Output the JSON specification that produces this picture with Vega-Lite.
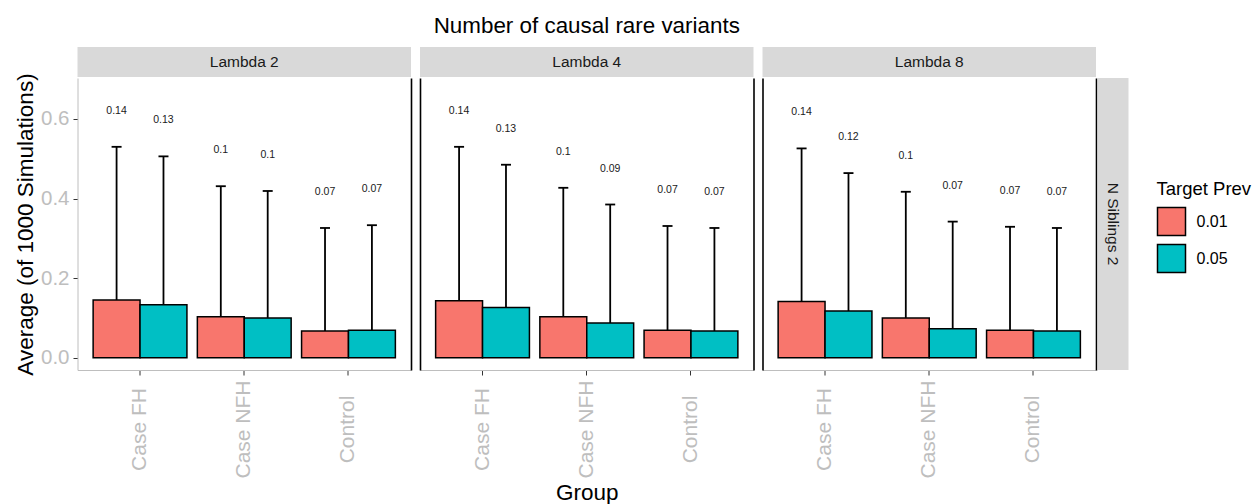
{
  "$schema": "https://vega.github.io/schema/vega-lite/v6.json",
  "padding": {"left": 14.5, "top": 14, "right": 0, "bottom": 0},
  "config": {
    "font": "Liberation Sans",
    "view": {"stroke": null},
    "axis": {"grid": false}
  },
  "datasets": {
    "d": [
      {"lambda": "Lambda 2", "group": "Case FH", "prev": "0.01", "mean": 0.145, "upper": 0.530, "label": "0.14"},
      {"lambda": "Lambda 2", "group": "Case FH", "prev": "0.05", "mean": 0.133, "upper": 0.506, "label": "0.13"},
      {"lambda": "Lambda 2", "group": "Case NFH", "prev": "0.01", "mean": 0.103, "upper": 0.431, "label": "0.1"},
      {"lambda": "Lambda 2", "group": "Case NFH", "prev": "0.05", "mean": 0.100, "upper": 0.419, "label": "0.1"},
      {"lambda": "Lambda 2", "group": "Control", "prev": "0.01", "mean": 0.067, "upper": 0.326, "label": "0.07"},
      {"lambda": "Lambda 2", "group": "Control", "prev": "0.05", "mean": 0.069, "upper": 0.333, "label": "0.07"},
      {"lambda": "Lambda 4", "group": "Case FH", "prev": "0.01", "mean": 0.143, "upper": 0.530, "label": "0.14"},
      {"lambda": "Lambda 4", "group": "Case FH", "prev": "0.05", "mean": 0.126, "upper": 0.485, "label": "0.13"},
      {"lambda": "Lambda 4", "group": "Case NFH", "prev": "0.01", "mean": 0.103, "upper": 0.427, "label": "0.1"},
      {"lambda": "Lambda 4", "group": "Case NFH", "prev": "0.05", "mean": 0.087, "upper": 0.385, "label": "0.09"},
      {"lambda": "Lambda 4", "group": "Control", "prev": "0.01", "mean": 0.069, "upper": 0.331, "label": "0.07"},
      {"lambda": "Lambda 4", "group": "Control", "prev": "0.05", "mean": 0.067, "upper": 0.326, "label": "0.07"},
      {"lambda": "Lambda 8", "group": "Case FH", "prev": "0.01", "mean": 0.141, "upper": 0.526, "label": "0.14"},
      {"lambda": "Lambda 8", "group": "Case FH", "prev": "0.05", "mean": 0.117, "upper": 0.464, "label": "0.12"},
      {"lambda": "Lambda 8", "group": "Case NFH", "prev": "0.01", "mean": 0.100, "upper": 0.417, "label": "0.1"},
      {"lambda": "Lambda 8", "group": "Case NFH", "prev": "0.05", "mean": 0.073, "upper": 0.342, "label": "0.07"},
      {"lambda": "Lambda 8", "group": "Control", "prev": "0.01", "mean": 0.069, "upper": 0.329, "label": "0.07"},
      {"lambda": "Lambda 8", "group": "Control", "prev": "0.05", "mean": 0.067, "upper": 0.326, "label": "0.07"}
    ]
  },
  "spacing": 8.5,
  "hconcat": [
    {
      "spacing": 1,
      "bounds": "flush",
      "vconcat": [
        {
          "width": 333.5, "height": 30,
          "view": {"fill": "#d9d9d9", "stroke": null},
          "data": {"values": [{"t": "Lambda 2"}]},
          "mark": {"type": "text", "fontSize": 15.5, "color": "#1a1a1a"},
          "encoding": {"text": {"field": "t"}}
        },
        {
          "width": 333.5, "height": 292,
          "data": {"name": "d"},
          "transform": [{"filter": "datum.lambda == 'Lambda 2'"}],
          "encoding": {
            "x": {"field": "group", "type": "nominal", "sort": ["Case FH", "Case NFH", "Control"],
              "scale": {"paddingInner": 0.1, "paddingOuter": 0.15},
              "axis": {"title": null, "labelAngle": 270, "labelAlign": "center", "labelBaseline": "middle", "labelColor": "#bebebe", "labelFontSize": 21, "labelPadding": 54, "tickColor": "#333333", "tickSize": 5, "domainColor": "#bebebe", "labelOverlap": false}},
            "xOffset": {"field": "prev", "type": "nominal", "scale": {"paddingInner": 0, "paddingOuter": 0}}
          },
          "layer": [
            {
              "mark": {"type": "rule", "color": "black", "strokeWidth": 1.8},
              "encoding": {
                "y": {"field": "mean", "type": "quantitative", "scale": {"domain": [-0.031, 0.703], "nice": false, "zero": false},
                  "axis": {"orient": "left", "values": [0, 0.2, 0.4, 0.6], "format": ".1f", "title": "Average (of 1000 Simulations)", "titleFontSize": 22.5, "titleFontWeight": "normal", "titleColor": "black", "titlePadding": 3, "labelColor": "#bebebe", "labelFontSize": 20.5, "labelPadding": 4, "tickColor": "#333333", "tickSize": 4.5, "domainColor": "#bebebe"}},
                "y2": {"field": "upper"}
              }
            },
            {
              "mark": {"type": "tick", "color": "black", "size": 10, "thickness": 1.8, "opacity": 1},
              "encoding": {
                "y": {"field": "upper", "type": "quantitative", "scale": {"domain": [-0.031, 0.703], "nice": false, "zero": false},
                  "axis": {"orient": "right", "labels": false, "ticks": false, "title": null, "domainColor": "black", "domainWidth": 1.6}}
              }
            },
            {
              "mark": {"type": "bar", "stroke": "black", "strokeWidth": 1.5, "opacity": 1},
              "encoding": {
                "y": {"field": "mean", "type": "quantitative", "scale": {"domain": [-0.031, 0.703], "nice": false, "zero": false}, "axis": null},
                "y2": {"datum": 0},
                "color": {"field": "prev", "type": "nominal", "scale": {"domain": ["0.01", "0.05"], "range": ["#F8766D", "#00BFC4"]},
                  "legend": {"title": "Target Prev", "orient": "none", "legendX": 1079, "legendY": 133, "symbolType": "square", "symbolSize": 784, "symbolStrokeColor": "black", "symbolStrokeWidth": 1.5, "symbolOpacity": 1, "titleFontSize": 18.5, "titleFontWeight": "normal", "titleColor": "black", "labelFontSize": 16, "labelColor": "black", "rowPadding": 3, "titlePadding": 8, "labelOffset": 10}}
              }
            },
            {
              "mark": {"type": "text", "dy": -36, "fontSize": 10.5, "color": "#1a1a1a"},
              "encoding": {
                "y": {"field": "upper", "type": "quantitative", "scale": {"domain": [-0.031, 0.703], "nice": false, "zero": false}, "axis": null},
                "text": {"field": "label"}
              }
            }
          ],
          "resolve": {"axis": {"y": "independent"}}
        }
      ]
    },
    {
      "spacing": 1,
      "vconcat": [
        {
          "width": 333.5, "height": 30,
          "view": {"fill": "#d9d9d9", "stroke": null},
          "title": {"text": "Number of causal rare variants", "fontSize": 22.4, "fontWeight": "normal", "color": "black", "anchor": "middle", "offset": 10},
          "data": {"values": [{"t": "Lambda 4"}]},
          "mark": {"type": "text", "fontSize": 15.5, "color": "#1a1a1a"},
          "encoding": {"text": {"field": "t"}}
        },
        {
          "width": 333.5, "height": 292,
          "data": {"name": "d"},
          "transform": [{"filter": "datum.lambda == 'Lambda 4'"}],
          "encoding": {
            "x": {"field": "group", "type": "nominal", "sort": ["Case FH", "Case NFH", "Control"],
              "scale": {"paddingInner": 0.1, "paddingOuter": 0.15},
              "axis": {"title": "Group", "titleFontSize": 22.5, "titleFontWeight": "normal", "titleColor": "black", "titlePadding": 3, "labelAngle": 270, "labelAlign": "center", "labelBaseline": "middle", "labelColor": "#bebebe", "labelFontSize": 21, "labelPadding": 54, "tickColor": "#333333", "tickSize": 5, "domainColor": "#bebebe", "labelOverlap": false}},
            "xOffset": {"field": "prev", "type": "nominal", "scale": {"paddingInner": 0, "paddingOuter": 0}}
          },
          "layer": [
            {
              "mark": {"type": "rule", "color": "black", "strokeWidth": 1.8},
              "encoding": {
                "y": {"field": "mean", "type": "quantitative", "scale": {"domain": [-0.031, 0.703], "nice": false, "zero": false},
                  "axis": {"orient": "left", "labels": false, "ticks": false, "title": null, "domainColor": "black", "domainWidth": 1.6}},
                "y2": {"field": "upper"}
              }
            },
            {
              "mark": {"type": "tick", "color": "black", "size": 10, "thickness": 1.8, "opacity": 1},
              "encoding": {
                "y": {"field": "upper", "type": "quantitative", "scale": {"domain": [-0.031, 0.703], "nice": false, "zero": false},
                  "axis": {"orient": "right", "labels": false, "ticks": false, "title": null, "domainColor": "black", "domainWidth": 1.6}}
              }
            },
            {
              "mark": {"type": "bar", "stroke": "black", "strokeWidth": 1.5, "opacity": 1},
              "encoding": {
                "y": {"field": "mean", "type": "quantitative", "scale": {"domain": [-0.031, 0.703], "nice": false, "zero": false}, "axis": null},
                "y2": {"datum": 0},
                "color": {"field": "prev", "type": "nominal", "scale": {"domain": ["0.01", "0.05"], "range": ["#F8766D", "#00BFC4"]},
                  "legend": {"title": "Target Prev", "orient": "none", "legendX": 1079, "legendY": 133, "symbolType": "square", "symbolSize": 784, "symbolStrokeColor": "black", "symbolStrokeWidth": 1.5, "symbolOpacity": 1, "titleFontSize": 18.5, "titleFontWeight": "normal", "titleColor": "black", "labelFontSize": 16, "labelColor": "black", "rowPadding": 3, "titlePadding": 8, "labelOffset": 10}}
              }
            },
            {
              "mark": {"type": "text", "dy": -36, "fontSize": 10.5, "color": "#1a1a1a"},
              "encoding": {
                "y": {"field": "upper", "type": "quantitative", "scale": {"domain": [-0.031, 0.703], "nice": false, "zero": false}, "axis": null},
                "text": {"field": "label"}
              }
            }
          ],
          "resolve": {"axis": {"y": "independent"}}
        }
      ]
    },
    {
      "spacing": 1,
      "vconcat": [
        {
          "width": 333.5, "height": 30,
          "view": {"fill": "#d9d9d9", "stroke": null},
          "data": {"values": [{"t": "Lambda 8"}]},
          "mark": {"type": "text", "fontSize": 15.5, "color": "#1a1a1a"},
          "encoding": {"text": {"field": "t"}}
        },
        {
          "spacing": 1,
          "hconcat": [
            {
              "width": 333.5, "height": 292,
              "data": {"name": "d"},
              "transform": [{"filter": "datum.lambda == 'Lambda 8'"}],
              "encoding": {
                "x": {"field": "group", "type": "nominal", "sort": ["Case FH", "Case NFH", "Control"],
                  "scale": {"paddingInner": 0.1, "paddingOuter": 0.15},
                  "axis": {"title": null, "labelAngle": 270, "labelAlign": "center", "labelBaseline": "middle", "labelColor": "#bebebe", "labelFontSize": 21, "labelPadding": 54, "tickColor": "#333333", "tickSize": 5, "domainColor": "#bebebe", "labelOverlap": false}},
                "xOffset": {"field": "prev", "type": "nominal", "scale": {"paddingInner": 0, "paddingOuter": 0}}
              },
              "layer": [
                {
                  "mark": {"type": "rule", "color": "black", "strokeWidth": 1.8},
                  "encoding": {
                    "y": {"field": "mean", "type": "quantitative", "scale": {"domain": [-0.031, 0.703], "nice": false, "zero": false},
                      "axis": {"orient": "left", "labels": false, "ticks": false, "title": null, "domainColor": "black", "domainWidth": 1.6}},
                    "y2": {"field": "upper"}
                  }
                },
                {
                  "mark": {"type": "tick", "color": "black", "size": 10, "thickness": 1.8, "opacity": 1},
                  "encoding": {
                    "y": {"field": "upper", "type": "quantitative", "scale": {"domain": [-0.031, 0.703], "nice": false, "zero": false},
                      "axis": {"orient": "right", "labels": false, "ticks": false, "title": null, "domainColor": "black", "domainWidth": 1.6}}
                  }
                },
                {
                  "mark": {"type": "bar", "stroke": "black", "strokeWidth": 1.5, "opacity": 1},
                  "encoding": {
                    "y": {"field": "mean", "type": "quantitative", "scale": {"domain": [-0.031, 0.703], "nice": false, "zero": false}, "axis": null},
                    "y2": {"datum": 0},
                    "color": {"field": "prev", "type": "nominal", "scale": {"domain": ["0.01", "0.05"], "range": ["#F8766D", "#00BFC4"]},
                      "legend": {"title": "Target Prev", "orient": "none", "legendX": 1079, "legendY": 133, "symbolType": "square", "symbolSize": 784, "symbolStrokeColor": "black", "symbolStrokeWidth": 1.5, "symbolOpacity": 1, "titleFontSize": 18.5, "titleFontWeight": "normal", "titleColor": "black", "labelFontSize": 16, "labelColor": "black", "rowPadding": 3, "titlePadding": 8, "labelOffset": 10}}
                  }
                },
                {
                  "mark": {"type": "text", "dy": -36, "fontSize": 10.5, "color": "#1a1a1a"},
                  "encoding": {
                    "y": {"field": "upper", "type": "quantitative", "scale": {"domain": [-0.031, 0.703], "nice": false, "zero": false}, "axis": null},
                    "text": {"field": "label"}
                  }
                }
              ],
              "resolve": {"axis": {"y": "independent"}}
            },
            {
              "width": 31, "height": 292,
              "view": {"fill": "#d9d9d9", "stroke": null},
              "data": {"values": [{"t": "N Siblings 2"}]},
              "mark": {"type": "text", "fontSize": 15.5, "color": "#1a1a1a", "angle": 90},
              "encoding": {"text": {"field": "t"}}
            }
          ]
        }
      ]
    }
  ]
}
